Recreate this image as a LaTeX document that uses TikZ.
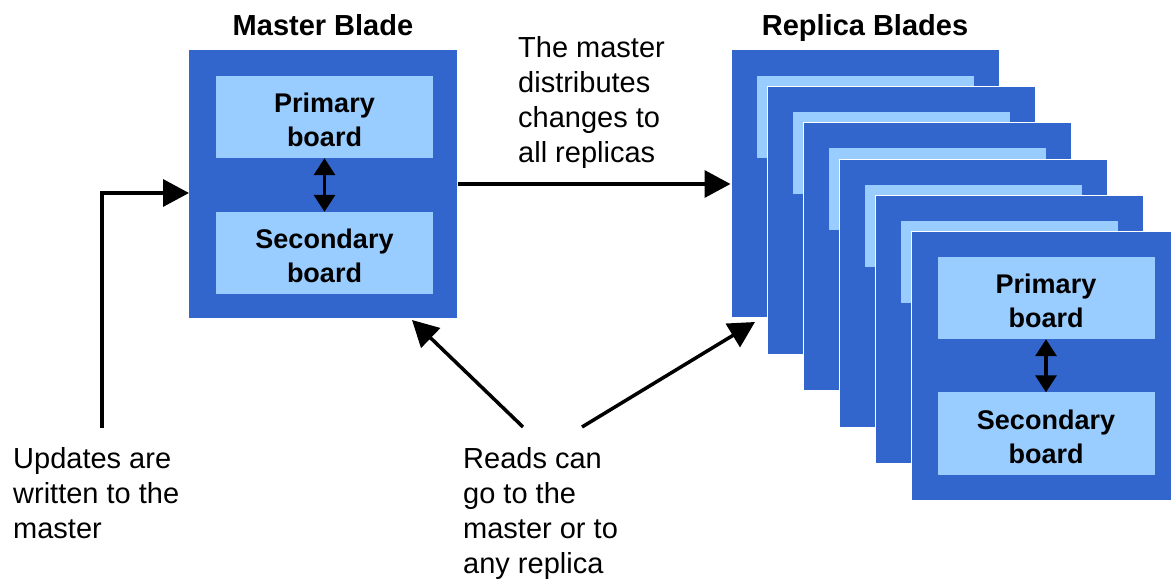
\documentclass[tikz,border=0pt]{standalone}
\usepackage{fontspec}
\setmainfont{Liberation Sans}
\usetikzlibrary{arrows.meta,calc}
\definecolor{bladeblue}{RGB}{51,102,204}
\definecolor{boardblue}{RGB}{153,204,255}
\tikzset{
  blade/.style={fill=bladeblue, draw=white, line width=1pt, minimum width=268pt, minimum height=268pt, inner sep=0pt},
  board/.style={fill=boardblue, minimum width=217pt, minimum height=82pt, inner sep=0pt},
  boardtext/.style={inner sep=0pt, align=center, font=\bfseries\fontsize{27}{34}\selectfont},
  note/.style={font=\fontsize{29}{35}\selectfont, align=left, inner sep=0pt, anchor=north west},
  heading/.style={font=\bfseries\fontsize{29}{35}\selectfont, anchor=base, inner sep=0pt},
  arr/.style={line width=3.5pt, -{Triangle[length=26pt,width=27pt]}},
  darr/.style={line width=3.5pt, {Triangle[length=17pt,width=21pt]}-{Triangle[length=17pt,width=21pt]}}
}
\begin{document}
\begin{tikzpicture}[x=1pt,y=-1pt]
\useasboundingbox (0,0) rectangle (1171,585);
\clip (0,0) rectangle (1171,585);
% titles
\node[heading] (tmaster) at (323,36) {Master Blade};
\node[heading] (treplica) at (865,36) {Replica Blades};
% master blade
\node[blade, draw=none] (master) at (323,184) {};
\node[board] (mp) at (324.5,117) {};
\node[board] (ms) at (324.5,253) {};
\node[boardtext] (mpt) at ($(mp.center)+(0,3)$) {Primary\\board};
\node[boardtext] (mst) at ($(ms.center)+(0,3)$) {Secondary\\board};
\draw[darr] (mp.south) -- (ms.north);
% replica stack
\foreach \i in {0,...,4}{
  \node[blade] (r\i) at ({865+36*\i},{184+36.4*\i}) {};
  \node[board, anchor=north west] (rb\i) at ($(r\i.north west)+(26,26)$) {};
}
\node[blade] (r5) at (1045,366) {};
\node[board] (rp) at (1046,298) {};
\node[board] (rs) at (1046,433.5) {};
\node[boardtext] (rpt) at ($(rp.center)+(0,3)$) {Primary\\board};
\node[boardtext] (rst) at ($(rs.center)+(0,3)$) {Secondary\\board};
\draw[darr] (rp.south) -- (rs.north);
% notes
\node[note] (nupd) at (13,447) {Updates are\\written to the\\master};
\node[note] (ndist) at (518,36) {The master\\distributes\\changes to\\all replicas};
\node[note] (nreads) at (463,447) {Reads can\\go to the\\master or to\\any replica};
% connectors
\coordinate (u0) at (102,428);
\coordinate (uin) at (189,193);
\draw[arr] (u0) |- (uin);
\draw[arr] (master.east) -- (r0.west);
\coordinate (rl0) at (523,427);
\coordinate (rl1) at (412,320);
\coordinate (rr0) at (582,427);
\coordinate (rr1) at (755,322);
\draw[arr] (rl0) -- (rl1);
\draw[arr] (rr0) -- (rr1);
\end{tikzpicture}
\end{document}
